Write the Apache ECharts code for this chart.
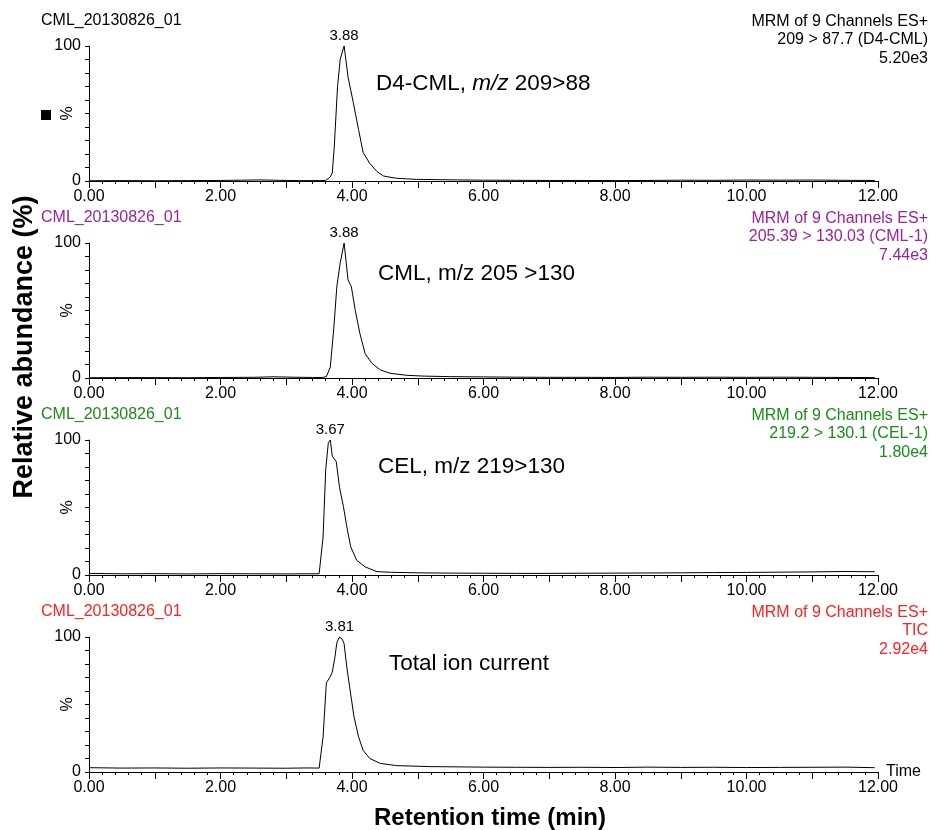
<!DOCTYPE html>
<html>
<head>
<meta charset="utf-8">
<title>MRM chromatograms</title>
<script src="https://cdn.jsdelivr.net/npm/echarts@6/dist/echarts.min.js"></script>
<style>
  html, body { margin: 0; padding: 0; background: #fff; }
  #chart { width: 931px; height: 830px; }
</style>
</head>
<body>
<div id="chart"></div>
<script>
// retention time (min) and relative abundance (%) per trace
const d4cmlTime = [0, 0.5, 1.0, 1.5, 2.0, 2.3, 2.6, 2.9, 3.2, 3.5, 3.6, 3.63, 3.67, 3.70, 3.73, 3.78, 3.82, 3.84, 3.88, 3.94, 4.02, 4.10, 4.17, 4.27, 4.38, 4.48, 4.58, 4.68, 4.83, 4.98, 5.3, 5.6, 6.0, 6.5, 7.0, 7.5, 8.0, 8.5, 9.0, 9.5, 10.0, 10.5, 11.0, 11.5, 11.95];
const d4cmlPct  = [0.2, 0.3, 0.2, 0.3, 0.4, 0.6, 0.8, 0.5, 0.3, 0.3, 0.4, 1.0, 3, 6, 25, 70, 90, 91, 100, 77, 58, 38, 21, 13, 7, 3.7, 2.8, 2.0, 1.6, 1.2, 1.0, 0.8, 0.6, 0.5, 0.4, 0.4, 0.3, 0.4, 0.6, 0.5, 0.7, 0.6, 0.7, 0.5, 0.4];

const cmlTime = [0, 0.5, 1.0, 1.5, 2.0, 2.5, 2.8, 3.1, 3.4, 3.55, 3.61, 3.67, 3.72, 3.77, 3.82, 3.88, 3.94, 3.99, 4.05, 4.12, 4.20, 4.30, 4.43, 4.58, 4.83, 5.1, 5.5, 6.0, 6.5, 7.0, 7.5, 8.0, 8.5, 9.0, 9.5, 10.0, 10.5, 11.0, 11.5, 11.95];
const cmlPct  = [0.2, 0.3, 0.3, 0.2, 0.4, 0.5, 0.9, 0.6, 0.4, 0.4, 1.0, 8, 35, 68, 85, 100, 72.6, 67.7, 50, 33, 18, 11, 6, 3.5, 2.0, 1.4, 1.0, 0.8, 0.6, 0.5, 0.5, 0.4, 0.6, 0.5, 0.6, 0.5, 0.6, 0.5, 0.4, 0.3];

const celTime = [0, 0.5, 1.0, 1.5, 2.0, 2.5, 3.0, 3.3, 3.5, 3.52, 3.56, 3.60, 3.64, 3.67, 3.70, 3.76, 3.81, 3.87, 3.92, 3.98, 4.07, 4.20, 4.38, 4.6, 5.0, 5.5, 6.0, 6.5, 7.0, 7.5, 8.0, 8.5, 9.0, 9.5, 10.0, 10.5, 11.0, 11.5, 11.95];
const celPct  = [1.2, 0.9, 1.0, 0.8, 1.0, 0.9, 0.8, 0.9, 0.9, 1.5, 28, 78, 98, 100, 88, 84, 65, 50.6, 36, 21, 11, 6, 2.5, 2.0, 1.6, 1.4, 1.3, 1.2, 1.2, 1.3, 1.4, 1.5, 1.6, 1.8, 1.9, 2.1, 2.3, 2.6, 2.4];

const ticTime = [0, 0.5, 1.0, 1.5, 2.0, 2.5, 3.0, 3.3, 3.5, 3.52, 3.56, 3.61, 3.67, 3.70, 3.74, 3.77, 3.81, 3.85, 3.88, 3.92, 3.97, 4.03, 4.10, 4.17, 4.27, 4.43, 4.68, 5.19, 5.6, 6.0, 6.5, 7.0, 7.5, 8.0, 8.5, 9.0, 9.5, 10.0, 10.5, 11.0, 11.5, 11.95];
const ticPct  = [3.2, 2.9, 3.0, 2.8, 3.0, 2.9, 2.8, 3.0, 2.9, 3.5, 26, 66, 70.6, 74, 85, 96, 100, 98.5, 95, 78, 61, 41, 26, 16, 10, 6.4, 4.7, 4.0, 3.8, 3.6, 3.5, 3.4, 3.5, 3.3, 3.6, 3.4, 3.5, 3.3, 3.4, 3.5, 3.6, 3.2];

const sampleName = 'CML_20130826_01';
const headerLines = [
    ['MRM of 9 Channels ES+', '209 > 87.7 (D4-CML)', '5.20e3'],
    ['MRM of 9 Channels ES+', '205.39 > 130.03 (CML-1)', '7.44e3'],
    ['MRM of 9 Channels ES+', '219.2 > 130.1 (CEL-1)', '1.80e4'],
    ['MRM of 9 Channels ES+', 'TIC', '2.92e4']
];
const panelColors = ['#000000', '#9b249b', '#1a8c1a', '#ff2020'];
const xTicks = [0, 2, 4, 6, 8, 10, 12];

const traces = [
    [d4cmlTime, d4cmlPct],
    [cmlTime, cmlPct],
    [celTime, celPct],
    [ticTime, ticPct]
];

const FONT = "'Liberation Sans', Arial, sans-serif";
const chart = echarts.init(document.getElementById('chart'));

const grids = [], xAxes = [], yAxes = [], series = [], graphics = [];

traces.forEach(([times, vals], i) => {
    const top = 46 + i * 197;
    grids.push({ left: 89, right: 53, top: top, height: 135 });

    xAxes.push({
        type: 'value', gridIndex: i, min: xTicks[0], max: xTicks[xTicks.length - 1], interval: 1,
        name: i === 3 ? 'Time' : '', nameLocation: 'end', nameGap: 8,
        nameTextStyle: { fontFamily: FONT, fontSize: 16, color: '#000', verticalAlign: 'middle' },
        axisLine: { onZero: false, lineStyle: { color: '#000', width: 1 } },
        axisTick: { show: true, length: 7, lineStyle: { color: '#000' } },
        minorTick: { show: true, splitNumber: 5, length: 3, lineStyle: { color: '#000' } },
        splitLine: { show: false },
        axisLabel: {
            fontFamily: FONT, fontSize: 16, color: '#000', margin: 8,
            formatter: v => xTicks.indexOf(v) >= 0 ? v.toFixed(2) : ''
        }
    });

    yAxes.push({
        type: 'value', gridIndex: i, min: 0, max: 100, interval: 10,
        name: '%', nameLocation: 'middle', nameRotate: 90, nameGap: 13, nameMoveOverlap: false,
        nameTextStyle: { fontFamily: FONT, fontSize: 16, color: '#000' },
        axisLine: { show: true, lineStyle: { color: '#000', width: 1 } },
        axisTick: { show: true, length: 4, lineStyle: { color: '#000' } },
        splitLine: { show: false },
        axisLabel: {
            fontFamily: FONT, fontSize: 16, color: '#000', margin: 8,
            formatter: v => (v === 0 || v === 100) ? String(v) : ''
        }
    });

    // apex of the trace
    let peak = 0;
    vals.forEach((v, k) => { if (v > vals[peak]) peak = k; });

    series.push({
        type: 'line', xAxisIndex: i, yAxisIndex: i,
        data: times.map((t, k) => [t, vals[k]]),
        showSymbol: false, symbol: 'none', silent: true,
        lineStyle: { color: '#000', width: 1 },
        markPoint: {
            symbol: 'circle', symbolSize: 0, silent: true,
            label: {
                show: true, position: 'top', distance: 3,
                fontFamily: FONT, fontSize: 15, color: '#000',
                formatter: p => p.data.coord[0].toFixed(2)
            },
            data: [{ coord: [times[peak], vals[peak]] }]
        }
    });

    graphics.push({
        type: 'text', left: 41, top: top - 33,
        style: { text: sampleName, font: '16px ' + FONT, fill: panelColors[i] }
    });
    graphics.push({
        type: 'text', right: 3, top: top - 34,
        style: {
            text: headerLines[i].join('\n'), font: '16px ' + FONT, fill: panelColors[i],
            align: 'right', textAlign: 'right', lineHeight: 18.5
        }
    });
});

// compound annotations inside the panels
const annoFont = '22.5px ' + FONT;
graphics.push(
    { type: 'text', left: 376, top: 72,
      style: { text: '{n|D4-CML, }{i|m/z}{n| 209>88}',
               rich: { n: { font: annoFont, fill: '#000' }, i: { font: 'italic ' + annoFont, fill: '#000' } } } },
    { type: 'text', left: 378, top: 262, style: { text: 'CML, m/z 205 >130', font: annoFont, fill: '#000' } },
    { type: 'text', left: 378, top: 455, style: { text: 'CEL, m/z 219>130', font: annoFont, fill: '#000' } },
    { type: 'text', left: 389, top: 652, style: { text: 'Total ion current', font: annoFont, fill: '#000' } },
    { type: 'rect', left: 41, top: 110, shape: { width: 10, height: 10 }, style: { fill: '#000' } },
    { type: 'text', x: 25, y: 347, rotation: Math.PI / 2,
      style: { text: 'Relative abundance (%)', font: 'bold 27px ' + FONT, fill: '#000',
               align: 'center', textAlign: 'center', verticalAlign: 'middle', textVerticalAlign: 'middle' } },
    { type: 'text', x: 490, y: 818,
      style: { text: 'Retention time (min)', font: 'bold 24px ' + FONT, fill: '#000',
               align: 'center', textAlign: 'center', verticalAlign: 'middle', textVerticalAlign: 'middle' } }
);

chart.setOption({
    animation: false,
    backgroundColor: '#fff',
    grid: grids,
    xAxis: xAxes,
    yAxis: yAxes,
    series: series,
    graphic: graphics
});
</script>
</body>
</html>
